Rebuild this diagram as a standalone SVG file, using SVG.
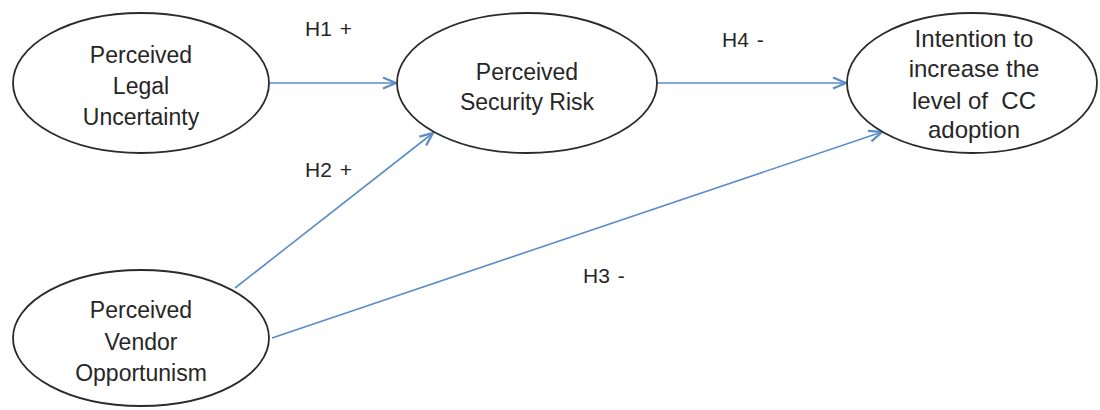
<svg xmlns="http://www.w3.org/2000/svg" width="1100" height="410" viewBox="0 0 1100 410">
<style>
.node ellipse{fill:#fff;stroke:#2b2b2b;stroke-width:1.8}
.node text{font-family:"Liberation Sans",Arial,sans-serif;font-size:23px;fill:#262626;text-anchor:middle}
.lbl{font-family:"Liberation Sans",Arial,sans-serif;font-size:21px;fill:#262626;word-spacing:2px}
.conn line{stroke:#5b8dc8;stroke-width:1.6;fill:none}
</style>
<defs>
<marker id="arr" markerUnits="userSpaceOnUse" viewBox="0 0 16 14" markerWidth="16" markerHeight="14" refX="15" refY="7" orient="auto">
<path d="M2,1.5 L15,7 L2,12.5" fill="none" stroke="#5b8dc8" stroke-width="2.2"/>
</marker>
</defs>
<rect width="1100" height="410" fill="#fff"/>
<g id="connectors" class="conn">
<line x1="270" y1="83" x2="396" y2="83" marker-end="url(#arr)"/>
<line x1="657" y1="83" x2="846" y2="83" marker-end="url(#arr)"/>
<line x1="235" y1="288" x2="433" y2="133" marker-end="url(#arr)"/>
<line x1="272" y1="338" x2="882" y2="132" marker-end="url(#arr)"/>
</g>
<g id="n1" class="node">
<ellipse cx="141" cy="83" rx="128" ry="70"/>
<text x="141" y="63">Perceived</text>
<text x="141" y="94">Legal</text>
<text x="141" y="125">Uncertainty</text>
</g>
<g id="n2" class="node">
<ellipse cx="527" cy="83" rx="130" ry="70"/>
<text x="527" y="80">Perceived</text>
<text x="527" y="110">Security Risk</text>
</g>
<g id="n3" class="node">
<ellipse cx="972" cy="83" rx="125" ry="70"/>
<text x="974" y="47" style="font-size:24px">Intention to</text>
<text x="974" y="77" style="font-size:24px">increase the</text>
<text x="974" y="109" style="font-size:24px" xml:space="preserve">level of  CC</text>
<text x="974" y="138" style="font-size:24px">adoption</text>
</g>
<g id="n4" class="node">
<ellipse cx="141" cy="338" rx="128" ry="68"/>
<text x="141" y="318">Perceived</text>
<text x="141" y="350">Vendor</text>
<text x="141" y="381">Opportunism</text>
</g>
<g id="labels">
<text class="lbl" x="305" y="36">H1 +</text>
<text class="lbl" x="305" y="177">H2 +</text>
<text class="lbl" x="722" y="47">H4 -</text>
<text class="lbl" x="583" y="283">H3 -</text>
</g>
</svg>
